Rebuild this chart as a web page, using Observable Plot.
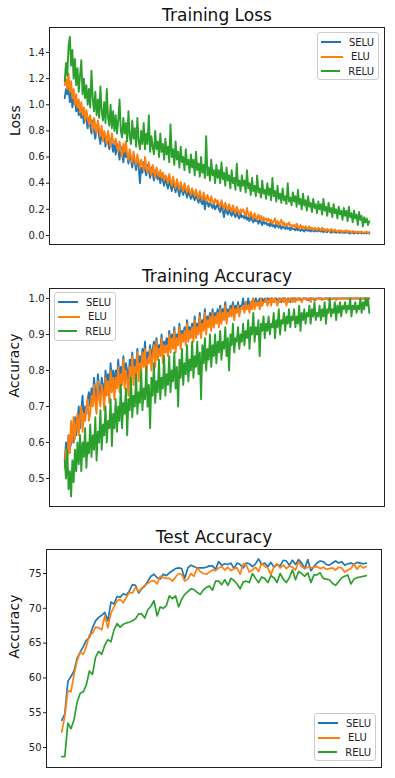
<!DOCTYPE html>
<html>
<head>
<meta charset="utf-8">
<script src="https://cdn.jsdelivr.net/npm/d3@7"></script>
<script src="https://cdn.jsdelivr.net/npm/@observablehq/plot@0.6"></script>
<style>
  html, body { margin: 0; padding: 0; background: #fff; }
  #wrap { position: relative; width: 395px; height: 778px; font-family: "DejaVu Sans", sans-serif; }
  .panel { position: absolute; left: 0; }
  .legend { position: absolute; border: 1px solid #cccccc; border-radius: 3px; background: rgba(255,255,255,0.85);
            font: 10px "DejaVu Sans", sans-serif; color: #222; box-sizing: border-box; padding: 2px 4px 1px 3px; }
  .legend .row { display: flex; align-items: center; height: 14.5px; }
  .legend .sw { width: 22px; height: 2px; margin-right: 8px; }
</style>
</head>
<body>
<div id="wrap"></div>
<script>
const seriesNames = ["SELU", "ELU", "RELU"];
const colors = ["#1f77b4", "#ff7f0e", "#2ca02c"];

// Training loss (sampled along training steps)
const lossSELU = [
  1.05,1.12,1.08,1.15,1.02,1.1,0.98,1.04,1.06,0.95,1.0,0.92,0.97,0.9,0.96,0.86,0.93,0.88,0.82,0.9,
  0.84,0.78,0.88,0.8,0.74,0.82,0.86,0.76,0.7,0.8,0.74,0.78,0.68,0.75,0.72,0.66,0.74,0.7,0.64,0.72,
  0.62,0.7,0.66,0.58,0.68,0.64,0.56,0.66,0.6,0.62,0.55,0.64,0.58,0.52,0.6,0.56,0.5,0.58,0.54,0.4,
  0.52,0.48,0.56,0.5,0.46,0.54,0.5,0.44,0.52,0.48,0.42,0.5,0.46,0.43,0.48,0.4,0.46,0.42,0.38,0.44,
  0.4,0.36,0.43,0.38,0.34,0.41,0.37,0.33,0.39,0.35,0.3,0.38,0.34,0.31,0.36,0.33,0.29,0.35,0.31,0.28,
  0.33,0.29,0.27,0.32,0.28,0.25,0.3,0.26,0.24,0.29,0.2,0.27,0.25,0.22,0.26,0.23,0.21,0.25,0.2,0.22,
  0.24,0.2,0.18,0.23,0.19,0.14,0.21,0.18,0.16,0.2,0.17,0.15,0.19,0.16,0.14,0.18,0.15,0.13,0.17,0.14,
  0.15,0.13,0.16,0.12,0.14,0.11,0.15,0.12,0.1,0.13,0.11,0.12,0.09,0.12,0.1,0.08,0.11,0.09,0.1,0.08,
  0.09,0.07,0.1,0.07,0.08,0.06,0.09,0.07,0.06,0.08,0.05,0.07,0.06,0.05,0.07,0.05,0.06,0.04,0.06,0.05,
  0.05,0.04,0.06,0.04,0.05,0.035,0.05,0.04,0.03,0.05,0.04,0.035,0.045,0.03,0.04,0.035,0.03,0.045,0.03,0.04,
  0.035,0.03,0.04,0.025,0.035,0.03,0.025,0.04,0.03,0.02,0.035,0.025,0.03,0.02,0.03,0.025,0.02,0.03,0.02,0.025,
  0.02,0.03,0.02,0.025,0.015,0.025,0.02,0.015,0.025,0.02,0.015,0.02,0.025,0.015,0.02,0.015,0.02,0.015,0.02,0.015
];
const lossELU = [
  1.15,1.2,1.12,1.24,1.1,1.18,1.05,1.12,1.0,1.08,0.98,1.04,0.94,1.02,0.92,0.98,0.88,0.96,0.9,0.85,
  0.92,0.86,0.8,0.9,0.84,0.78,0.88,0.82,0.76,0.84,0.72,0.8,0.76,0.7,0.8,0.74,0.68,0.78,0.72,0.7,
  0.74,0.68,0.64,0.72,0.66,0.6,0.7,0.64,0.72,0.62,0.58,0.66,0.6,0.56,0.64,0.58,0.54,0.62,0.56,0.52,
  0.58,0.54,0.5,0.6,0.52,0.48,0.56,0.5,0.46,0.54,0.5,0.44,0.52,0.48,0.45,0.5,0.44,0.48,0.42,0.46,
  0.44,0.4,0.47,0.42,0.38,0.45,0.4,0.36,0.43,0.39,0.35,0.41,0.37,0.34,0.4,0.36,0.33,0.38,0.34,0.31,
  0.36,0.33,0.3,0.35,0.31,0.28,0.34,0.3,0.27,0.33,0.29,0.26,0.31,0.28,0.25,0.3,0.26,0.24,0.28,0.25,
  0.27,0.24,0.22,0.27,0.23,0.2,0.25,0.22,0.19,0.24,0.21,0.18,0.23,0.2,0.17,0.22,0.19,0.16,0.2,0.18,
  0.2,0.17,0.15,0.21,0.16,0.14,0.18,0.15,0.13,0.17,0.14,0.12,0.16,0.13,0.15,0.11,0.14,0.12,0.13,0.11,
  0.13,0.1,0.12,0.09,0.11,0.13,0.09,0.11,0.08,0.1,0.12,0.08,0.1,0.07,0.09,0.08,0.1,0.07,0.08,0.07,
  0.08,0.06,0.09,0.07,0.05,0.08,0.06,0.07,0.05,0.07,0.06,0.05,0.07,0.05,0.06,0.04,0.06,0.05,0.04,0.06,
  0.05,0.04,0.06,0.04,0.05,0.03,0.05,0.04,0.03,0.05,0.04,0.03,0.045,0.035,0.03,0.04,0.03,0.04,0.025,0.035,
  0.03,0.04,0.025,0.035,0.03,0.02,0.035,0.025,0.03,0.02,0.03,0.025,0.02,0.03,0.02,0.025,0.02,0.03,0.02,0.025
];
const lossRELU = [
  1.18,1.32,1.22,1.45,1.52,1.3,1.42,1.2,1.35,1.15,1.28,1.1,1.22,1.34,1.08,1.2,1.05,1.15,1.0,1.12,
  0.98,1.26,1.05,0.95,1.1,0.92,1.04,0.9,1.14,0.95,0.88,1.02,0.86,1.12,0.9,0.84,1.0,0.82,0.95,0.8,
  0.92,0.78,0.88,1.04,0.8,0.75,0.9,0.78,0.86,0.72,0.95,0.76,0.7,0.88,0.74,0.82,0.68,0.9,0.72,0.66,
  0.8,0.7,0.86,0.66,0.78,0.7,0.92,0.64,0.76,0.68,0.62,0.8,0.66,0.72,0.6,0.78,0.64,0.7,0.58,0.74,
  0.62,0.68,0.56,0.85,0.6,0.66,0.54,0.72,0.58,0.64,0.52,0.68,0.56,0.6,0.5,0.66,0.54,0.58,0.48,0.62,
  0.52,0.58,0.46,0.64,0.5,0.55,0.45,0.6,0.48,0.54,0.44,0.76,0.46,0.52,0.42,0.58,0.46,0.5,0.4,0.54,
  0.44,0.5,0.4,0.56,0.43,0.48,0.38,0.52,0.42,0.46,0.36,0.5,0.4,0.44,0.35,0.55,0.38,0.42,0.34,0.46,
  0.38,0.42,0.33,0.5,0.36,0.4,0.31,0.44,0.34,0.38,0.3,0.46,0.33,0.36,0.29,0.42,0.32,0.35,0.28,0.4,
  0.31,0.36,0.27,0.44,0.3,0.34,0.26,0.38,0.28,0.32,0.25,0.36,0.27,0.3,0.24,0.4,0.26,0.29,0.23,0.33,
  0.26,0.3,0.22,0.35,0.24,0.28,0.2,0.32,0.23,0.27,0.19,0.3,0.22,0.25,0.18,0.28,0.21,0.24,0.17,0.26,
  0.2,0.24,0.16,0.28,0.19,0.22,0.15,0.25,0.18,0.21,0.14,0.24,0.17,0.2,0.13,0.22,0.16,0.19,0.12,0.21,
  0.15,0.19,0.11,0.22,0.14,0.17,0.1,0.19,0.13,0.16,0.08,0.18,0.12,0.15,0.07,0.14,0.1,0.13,0.08,0.11
];

// Training accuracy
const accSELU = [
  0.55,0.6,0.57,0.62,0.58,0.6,0.64,0.6,0.67,0.62,0.66,0.7,0.64,0.69,0.73,0.66,0.7,0.68,0.72,0.74,
  0.7,0.75,0.72,0.78,0.74,0.71,0.79,0.75,0.73,0.78,0.76,0.72,0.8,0.76,0.79,0.74,0.82,0.77,0.8,0.76,
  0.8,0.78,0.83,0.77,0.81,0.79,0.84,0.78,0.82,0.8,0.76,0.83,0.81,0.85,0.79,0.83,0.81,0.86,0.8,0.84,
  0.82,0.86,0.83,0.88,0.81,0.85,0.84,0.87,0.83,0.86,0.88,0.84,0.89,0.85,0.87,0.86,0.9,0.85,0.88,0.87,
  0.89,0.86,0.91,0.87,0.9,0.88,0.92,0.87,0.9,0.89,0.93,0.88,0.91,0.9,0.92,0.89,0.94,0.9,0.92,0.91,
  0.93,0.9,0.95,0.91,0.93,0.92,0.96,0.91,0.94,0.93,0.97,0.92,0.95,0.94,0.96,0.93,0.97,0.94,0.96,0.95,
  0.97,0.94,0.98,0.95,0.97,0.96,0.99,0.95,0.97,0.96,0.98,0.97,0.99,0.96,0.98,0.97,0.99,0.97,0.98,0.98,
  1.0,0.97,0.99,0.98,1.0,0.98,0.99,0.99,1.0,0.98,1.0,0.99,0.99,1.0,0.98,1.0,0.99,1.0,0.99,1.0,
  1.0,0.99,1.0,1.0,0.99,1.0,1.0,0.995,1.0,1.0,0.99,1.0,1.0,1.0,0.995,1.0,1.0,0.99,1.0,1.0,
  1.0,1.0,0.995,1.0,1.0,1.0,0.995,1.0,1.0,1.0,1.0,0.995,1.0,1.0,1.0,1.0,0.995,1.0,1.0,1.0,
  1.0,1.0,1.0,0.998,1.0,1.0,1.0,1.0,1.0,1.0,0.998,1.0,1.0,1.0,1.0,1.0,1.0,1.0,1.0,1.0,
  1.0,1.0,1.0,1.0,1.0,1.0,1.0,1.0,1.0,1.0,1.0,1.0,1.0,1.0,1.0,1.0,1.0,1.0,1.0,1.0
];
const accELU = [
  0.53,0.58,0.55,0.62,0.57,0.66,0.6,0.67,0.61,0.65,0.68,0.62,0.67,0.7,0.63,0.68,0.66,0.7,0.72,0.66,
  0.68,0.73,0.7,0.76,0.71,0.68,0.77,0.72,0.7,0.76,0.74,0.69,0.78,0.73,0.77,0.71,0.8,0.74,0.78,0.72,
  0.78,0.75,0.81,0.74,0.79,0.76,0.83,0.75,0.8,0.77,0.73,0.81,0.78,0.84,0.76,0.81,0.79,0.85,0.77,0.82,
  0.8,0.85,0.81,0.86,0.78,0.83,0.82,0.86,0.8,0.84,0.87,0.81,0.88,0.83,0.86,0.84,0.89,0.82,0.87,0.85,
  0.87,0.84,0.9,0.85,0.89,0.86,0.91,0.85,0.89,0.87,0.92,0.86,0.9,0.88,0.91,0.87,0.93,0.88,0.91,0.89,
  0.92,0.88,0.94,0.89,0.92,0.9,0.95,0.89,0.93,0.91,0.96,0.9,0.94,0.92,0.95,0.91,0.96,0.92,0.95,0.93,
  0.96,0.92,0.97,0.93,0.96,0.94,0.98,0.93,0.96,0.95,0.97,0.95,0.98,0.94,0.97,0.96,0.98,0.95,0.97,0.97,
  0.98,0.96,0.99,0.97,0.98,0.96,0.99,0.97,1.0,0.97,0.99,0.98,0.99,0.97,1.0,0.98,0.99,0.99,1.0,0.98,
  0.99,1.0,0.98,1.0,0.99,1.0,0.99,0.98,1.0,0.99,1.0,1.0,0.99,1.0,0.98,1.0,0.99,1.0,1.0,0.99,
  1.0,0.99,1.0,1.0,0.995,1.0,0.99,1.0,1.0,1.0,0.995,1.0,1.0,0.99,1.0,1.0,1.0,0.995,1.0,1.0,
  1.0,1.0,0.995,1.0,1.0,1.0,1.0,0.995,1.0,1.0,1.0,1.0,1.0,0.995,1.0,1.0,1.0,1.0,1.0,1.0,
  1.0,1.0,1.0,1.0,0.998,1.0,1.0,1.0,1.0,1.0,1.0,1.0,0.998,1.0,1.0,1.0,1.0,1.0,1.0,1.0
];
const accRELU = [
  0.55,0.5,0.58,0.47,0.52,0.45,0.55,0.49,0.58,0.52,0.6,0.54,0.62,0.52,0.6,0.56,0.64,0.53,0.6,0.57,
  0.65,0.56,0.62,0.58,0.67,0.55,0.63,0.6,0.69,0.58,0.65,0.62,0.7,0.6,0.66,0.64,0.72,0.59,0.68,0.64,
  0.72,0.63,0.7,0.66,0.76,0.64,0.71,0.68,0.75,0.62,0.72,0.69,0.78,0.67,0.73,0.7,0.79,0.68,0.74,0.71,
  0.8,0.69,0.75,0.72,0.81,0.7,0.76,0.64,0.78,0.73,0.82,0.71,0.77,0.74,0.83,0.72,0.78,0.75,0.84,0.73,
  0.79,0.76,0.84,0.74,0.8,0.77,0.85,0.75,0.81,0.7,0.83,0.78,0.86,0.76,0.82,0.79,0.87,0.77,0.83,0.8,
  0.88,0.78,0.84,0.81,0.88,0.79,0.85,0.72,0.87,0.82,0.89,0.8,0.86,0.83,0.9,0.81,0.87,0.84,0.9,0.82,
  0.88,0.85,0.91,0.83,0.88,0.86,0.92,0.84,0.89,0.8,0.9,0.87,0.93,0.85,0.89,0.88,0.92,0.86,0.9,0.88,
  0.93,0.87,0.91,0.89,0.94,0.86,0.92,0.9,0.96,0.88,0.92,0.9,0.94,0.84,0.93,0.91,0.95,0.89,0.93,0.91,
  0.95,0.9,0.93,0.92,0.96,0.89,0.94,0.92,0.97,0.9,0.94,0.93,0.96,0.91,0.95,0.93,0.97,0.92,0.95,0.94,
  0.97,0.92,0.95,0.93,0.98,0.91,0.96,0.94,0.97,0.93,0.96,0.95,0.98,0.93,0.97,0.95,0.99,0.94,0.96,0.95,
  0.98,0.94,0.97,0.95,0.99,0.93,0.97,0.96,1.0,0.95,0.97,0.96,0.99,0.94,0.98,0.96,0.99,0.95,0.98,0.97,
  0.99,0.96,0.98,0.97,1.0,0.95,0.98,0.97,0.99,0.96,0.98,0.97,1.0,0.96,0.99,0.97,1.0,0.98,1.0,0.96
];

// Test accuracy (per epoch)
const testSELU = [
  53.9,54.8,59.5,60.2,61,62.8,63.7,64.5,65.4,65.8,67.2,68.2,68.7,69,69.4,68.2,70.9,70.6,71.7,71.6,
  72.1,71.9,72.5,73.4,73.3,72.2,72.8,73.2,73.9,74.6,74.9,74.4,74.2,74.9,74.7,75.1,75.4,75.7,75.8,75.7,
  74.3,75.8,76.2,76,75.8,75.8,75.8,75.9,76.1,76.1,75.6,76.7,76.2,76.4,76.3,76.5,75.7,76.5,76.3,75.8,
  76.5,76.4,76,76.4,77.1,76.3,76.5,76,76.6,75.9,76.3,76.1,76.9,76.8,76.2,76.9,76.3,77,76.5,75.7,
  77,75.4,76,76.5,76.8,76.7,76.3,76.2,76.5,76.8,76.5,76.7,76.2,76.4,76.5,76.3,76.6,76.5,76.4,76.5
];
const testELU = [
  52.2,54.5,58.2,58,60.5,62.5,63.7,63.4,64.5,66.2,66.4,67.3,67.2,66.9,68.9,67.2,69.3,70.2,71.1,71.3,
  70.8,71.6,72.3,72.2,73,72.4,72.9,73.3,73.6,73.9,74,73.5,74.6,74.4,74.3,74.3,73.9,74.5,75,74.9,
  73.9,74.2,75,74.6,75.8,75.3,75,74.9,75.2,75.5,75.4,75.8,76,75.5,75.9,75.4,75.7,75.8,74.9,76.4,
  76.2,75.2,75.5,75.9,75.3,76.5,76,75.8,74.8,76,76.4,75.8,76.2,75.7,76.1,75.9,75.5,76.7,76,75.7,
  75.9,75.8,75.9,76,75.7,75.9,75.6,75.7,75.8,75.5,75.9,75.8,75.2,75.5,75.7,76.4,75.6,76.2,75.8,76
];
const testRELU = [
  48.7,48.7,53.5,52.7,54,56.5,57.8,58,59,61,60.5,63,63.8,63.4,64.7,65.5,65.2,66.9,67.8,67.3,
  67.7,67.9,68,68.2,68.5,69.2,69.2,68.6,69.8,70.3,71.1,68.9,70.2,70,70.4,71.8,71.4,71.8,70.2,71.3,
  72,72.4,72.8,72.7,72.3,72,72.6,73,73.2,72.6,73.9,73.9,73.4,74.1,73.3,74.3,74,73.5,72.8,73.8,
  73.9,73.7,75,74.3,73.7,74.5,74.3,73.7,74.7,74.4,73.7,75,74.2,73.7,74.4,75.5,74.1,75.3,75,74.6,
  75.1,73.7,74.8,74.8,75.1,74.3,74.2,74.1,73.6,73.3,73.8,74.4,74.6,74.8,73.5,74.2,74.4,74.5,74.6,74.7
];

const lossTicks = [0.0, 0.2, 0.4, 0.6, 0.8, 1.0, 1.2, 1.4];
const accTicks = [0.5, 0.6, 0.7, 0.8, 0.9, 1.0];
const testTicks = [50, 55, 60, 65, 70, 75];

const wrap = document.getElementById("wrap");

function panel({top, height, mt, mb, ml, mr, xdom, ydom, ticks, fmt, series, sw, title, ylabel, ldx, legend}) {
  const marks = [];
  series.forEach((s, i) => {
    marks.push(Plot.lineY(s, {stroke: colors[i], strokeWidth: sw}));
  });
  marks.push(Plot.frame({stroke: "#222", strokeWidth: 1}));
  marks.push(Plot.text([title], {text: d => d, frameAnchor: "top", dy: -7, lineAnchor: "bottom", fontSize: 17, fill: "#111"}));
  marks.push(Plot.text([ylabel], {text: d => d, frameAnchor: "left", rotate: -90, dx: ldx, fontSize: 14, fill: "#111"}));
  const svg = Plot.plot({
    width: 395, height,
    marginTop: mt, marginBottom: mb, marginLeft: ml, marginRight: mr,
    style: {fontFamily: "DejaVu Sans, sans-serif", fontSize: "10px", color: "#222", background: "transparent"},
    x: {domain: xdom, axis: null},
    y: {domain: ydom, ticks, tickFormat: fmt, tickSize: 3, tickPadding: 2, label: null},
    marks
  });
  const div = document.createElement("div");
  div.className = "panel";
  div.style.top = top + "px";
  div.appendChild(svg);
  wrap.appendChild(div);

  const lg = document.createElement("div");
  lg.className = "legend";
  lg.style.left = legend.left + "px";
  lg.style.top = legend.top + "px";
  lg.style.width = legend.w + "px";
  lg.style.height = legend.h + "px";
  seriesNames.forEach((n, i) => {
    const r = document.createElement("div");
    r.className = "row";
    const s = document.createElement("span");
    s.className = "sw";
    s.style.background = colors[i];
    const t = document.createElement("span");
    t.textContent = n;
    r.appendChild(s); r.appendChild(t);
    lg.appendChild(r);
  });
  wrap.appendChild(lg);
}

panel({top: 0, height: 260, mt: 27, mb: 16, ml: 49, mr: 11,
  xdom: [-11.95, 250.95], ydom: [-0.069, 1.591], ticks: lossTicks, fmt: d3.format(".1f"),
  series: [lossSELU, lossELU, lossRELU], sw: 1.9, title: "Training Loss", ylabel: "Loss", ldx: -34,
  legend: {left: 317, top: 32, w: 62, h: 48}});

panel({top: 260, height: 260, mt: 28, mb: 14, ml: 49, mr: 11,
  xdom: [-11.95, 250.95], ydom: [0.4222, 1.0278], ticks: accTicks, fmt: d3.format(".1f"),
  series: [accSELU, accELU, accRELU], sw: 1.9, title: "Training Accuracy", ylabel: "Accuracy", ldx: -35,
  legend: {left: 54, top: 292, w: 62, h: 49}});

panel({top: 520, height: 258, mt: 29, mb: 11, ml: 46, mr: 14,
  xdom: [-4.95, 103.95], ydom: [47.13, 78.45], ticks: testTicks, fmt: d3.format("d"),
  series: [testSELU, testELU, testRELU], sw: 1.7, title: "Test Accuracy", ylabel: "Accuracy", ldx: -32,
  legend: {left: 314, top: 713, w: 62, h: 48}});
</script>
</body>
</html>
